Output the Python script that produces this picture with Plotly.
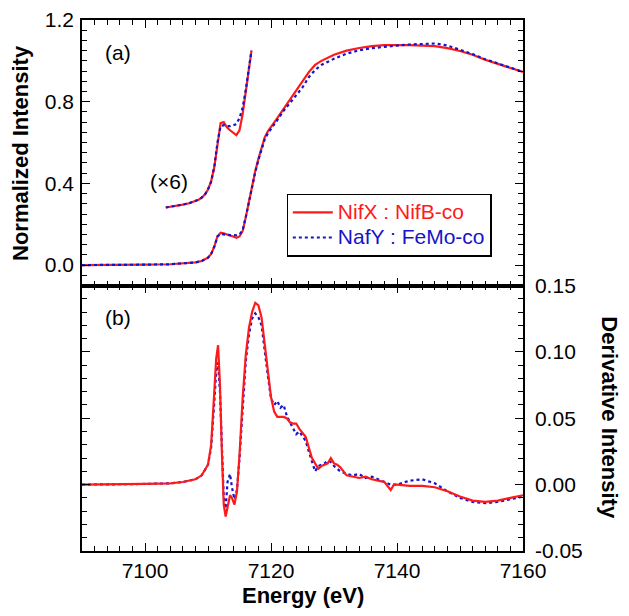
import plotly.graph_objects as go

# ---------------- data ----------------
energy_xanes = [7090, 7095, 7100, 7104, 7106, 7107, 7108, 7109, 7109.5, 7110, 7110.5, 7111,
                7111.5, 7112, 7112.5, 7113, 7113.5, 7114, 7114.5, 7115, 7115.5, 7116, 7116.5,
                7117, 7117.5, 7118, 7118.5, 7119, 7119.5, 7120, 7121, 7122, 7123, 7124, 7125,
                7126, 7127, 7128, 7130, 7132, 7134, 7136, 7138, 7140, 7142, 7144, 7146, 7148,
                7150, 7152, 7154, 7156, 7158, 7160]
xanes_nifx = [0.0, 0.0, 0.002, 0.004, 0.007, 0.009, 0.013, 0.02, 0.027, 0.036, 0.055, 0.09,
              0.14, 0.158, 0.155, 0.148, 0.145, 0.14, 0.134, 0.14, 0.167, 0.235, 0.31,
              0.39, 0.46, 0.52, 0.575, 0.625, 0.655, 0.675, 0.72, 0.765, 0.81, 0.85, 0.895,
              0.945, 0.98, 1.0, 1.03, 1.05, 1.063, 1.072, 1.077, 1.078, 1.077, 1.075, 1.072, 1.062,
              1.048, 1.03, 1.005, 0.985, 0.965, 0.946]
xanes_nafy = [0.0, 0.0, 0.002, 0.004, 0.007, 0.009, 0.013, 0.02, 0.027, 0.036, 0.055, 0.09,
              0.14, 0.152, 0.15, 0.147, 0.147, 0.147, 0.146, 0.15, 0.17, 0.235, 0.31,
              0.39, 0.455, 0.515, 0.565, 0.615, 0.645, 0.665, 0.71, 0.755, 0.795, 0.835, 0.87,
              0.92, 0.955, 0.98, 1.01, 1.035, 1.052, 1.062, 1.07, 1.075, 1.08, 1.084, 1.085, 1.075,
              1.055, 1.033, 1.008, 0.987, 0.966, 0.946]

energy_x6 = [7103.3, 7104, 7105, 7106, 7107, 7108, 7108.5, 7109, 7109.5, 7110, 7110.5, 7111,
             7111.5, 7112, 7112.5, 7113, 7113.5, 7114, 7114.5, 7115, 7115.5, 7116, 7116.5, 7116.9]
x6_nifx = [0.282, 0.285, 0.29, 0.296, 0.303, 0.313, 0.32, 0.33, 0.345, 0.37, 0.41, 0.48,
           0.6, 0.695, 0.70, 0.675, 0.66, 0.648, 0.636, 0.66, 0.74, 0.85, 0.96, 1.05]
x6_nafy = [0.282, 0.285, 0.29, 0.296, 0.303, 0.313, 0.32, 0.33, 0.345, 0.37, 0.41, 0.48,
           0.6, 0.68, 0.685, 0.68, 0.68, 0.685, 0.69, 0.72, 0.77, 0.86, 0.96, 1.05]

energy_deriv = [7090, 7095, 7100, 7104, 7106, 7108, 7109, 7110, 7110.5, 7111, 7111.3, 7111.6,
                7111.9, 7112.2, 7112.5, 7112.8, 7113.1, 7113.5, 7113.8, 7114.2, 7114.6, 7115,
                7115.5, 7116, 7116.5, 7117, 7117.5, 7118, 7118.5, 7119, 7119.5, 7120, 7120.5,
                7121, 7121.5, 7122, 7122.5, 7123, 7123.5, 7124, 7124.5, 7125, 7125.5, 7126,
                7126.5, 7127, 7127.5, 7128, 7128.5, 7129, 7129.5, 7130, 7130.5, 7131, 7132,
                7133, 7134, 7135, 7136, 7137, 7138, 7138.5, 7139, 7139.5, 7140, 7142, 7144,
                7146, 7148, 7150, 7152, 7154, 7156, 7158, 7160]
deriv_nifx = [0.0, 0.0, 0.0005, 0.001, 0.002, 0.004, 0.007, 0.015, 0.03, 0.07, 0.095, 0.105,
              0.075, 0.025, -0.015, -0.024, -0.018, -0.008, -0.01, -0.015, -0.005, 0.022,
              0.065, 0.098, 0.118, 0.13, 0.137, 0.135, 0.126, 0.105, 0.085, 0.066, 0.055,
              0.051, 0.051, 0.051, 0.05, 0.047, 0.046, 0.046, 0.042, 0.039, 0.036, 0.028,
              0.02, 0.016, 0.012, 0.014, 0.015, 0.016, 0.02, 0.016, 0.015, 0.013, 0.007,
              0.006, 0.005, 0.006, 0.004, 0.003, 0.002, -0.001, -0.004, 0.0, 0.0, -0.001, -0.001,
              -0.002, -0.005, -0.009, -0.012, -0.013, -0.012, -0.01, -0.008]
deriv_nafy = [0.0, 0.0, 0.0005, 0.001, 0.002, 0.004, 0.007, 0.015, 0.028, 0.062, 0.085, 0.092,
              0.07, 0.03, -0.01, -0.018, 0.002, 0.008, -0.002, -0.011, -0.004, 0.02,
              0.06, 0.093, 0.113, 0.125, 0.129, 0.126, 0.12, 0.1, 0.082, 0.065, 0.06,
              0.063, 0.058, 0.06, 0.052, 0.047, 0.042, 0.038, 0.04, 0.036, 0.033, 0.025,
              0.018, 0.01, 0.014, 0.015, 0.016, 0.018, 0.017, 0.014, 0.012, 0.01, 0.008,
              0.007, 0.008, 0.005, 0.006, 0.004, 0.002, 0.001, 0.0, 0.0, 0.0, 0.003, 0.004,
              0.001, -0.005, -0.01, -0.013, -0.014, -0.013, -0.011, -0.009]

name_nifx = "NifX : NifB-co"
name_nafy = "NafY : FeMo-co"
y2_tickvals = [-0.05, 0.0, 0.05, 0.10, 0.15]
y2_ticktext = ["-0.05", "0.00", "0.05", "0.10", "0.15"]

RED = "#ff1a1a"
BLUE = "#1414c8"
FONT = "Liberation Sans, Arial, sans-serif"

fig = go.Figure()

# top panel
fig.add_trace(go.Scatter(x=energy_xanes, y=xanes_nifx, xaxis="x2", yaxis="y", mode="lines",
                         line=dict(color=RED, width=2.2),
                         name=f"<span style='color:{RED};font-size:21px'>{name_nifx}</span>"))
fig.add_trace(go.Scatter(x=energy_xanes, y=xanes_nafy, xaxis="x2", yaxis="y", mode="lines",
                         line=dict(color=BLUE, width=2.2, dash="dot"),
                         name=f"<span style='color:{BLUE};font-size:21px'>{name_nafy}</span>"))
fig.add_trace(go.Scatter(x=energy_x6, y=x6_nifx, xaxis="x2", yaxis="y", mode="lines",
                         line=dict(color=RED, width=2.2), showlegend=False))
fig.add_trace(go.Scatter(x=energy_x6, y=x6_nafy, xaxis="x2", yaxis="y", mode="lines",
                         line=dict(color=BLUE, width=2.2, dash="dot"), showlegend=False))
# bottom panel
fig.add_trace(go.Scatter(x=energy_deriv, y=deriv_nafy, xaxis="x", yaxis="y2", mode="lines",
                         line=dict(color=BLUE, width=2.2, dash="dot"), showlegend=False))
fig.add_trace(go.Scatter(x=energy_deriv, y=deriv_nifx, xaxis="x", yaxis="y2", mode="lines",
                         line=dict(color=RED, width=2.2), showlegend=False))

axis_common = dict(showline=True, linecolor="black", linewidth=1.5, ticks="inside",
                   ticklen=8, tickwidth=1.2, tickcolor="black", mirror="allticks",
                   showgrid=False, zeroline=False, automargin=False,
                   tickfont=dict(family=FONT, size=21, color="black"))

# page body has an 8px default margin, so the figure is 8px smaller than the window
fig.update_layout(
    width=621, height=608,
    margin=dict(l=74, r=106, t=12, b=65, autoexpand=False),
    plot_bgcolor="white", paper_bgcolor="white",
    font=dict(family=FONT, size=21, color="black"),
    xaxis=dict(domain=[0, 1], anchor="y2", range=[7090, 7160], tick0=7100, dtick=20,
               minor=dict(dtick=2, ticklen=5, ticks="inside", tickcolor="black", tickwidth=1.2),
               **axis_common),
    xaxis2=dict(domain=[0, 1], anchor="y", matches="x", range=[7090, 7160], tick0=7100, dtick=20,
                showticklabels=False,
                minor=dict(dtick=2, ticklen=5, ticks="inside", tickcolor="black", tickwidth=1.2),
                **axis_common),
    yaxis=dict(domain=[0.5, 1], anchor="x2", range=[-0.1, 1.2], tick0=0, dtick=0.4,
               tickformat=".1f", ticklabelstandoff=2,
               minor=dict(dtick=0.05, ticklen=5, ticks="inside", tickcolor="black", tickwidth=1.2),
               **axis_common),
    yaxis2=dict(domain=[0, 0.5], anchor="x", range=[-0.05, 0.15], side="right",
                tickmode="array", tickvals=y2_tickvals, ticktext=y2_ticktext,
                ticklabelstandoff=6,
                minor=dict(dtick=0.01, tick0=0, ticklen=5, ticks="inside", tickcolor="black",
                           tickwidth=1.2),
                **axis_common),
    legend=dict(x=0.464, y=0.673, xanchor="left", yanchor="top",
                bordercolor="black", borderwidth=1.2, bgcolor="white",
                font=dict(family=FONT, size=17), tracegroupgap=0,
                itemwidth=40),
    showlegend=True,
)

annots = [
    dict(text="(a)", x=0.05, y=0.939, xanchor="left", yanchor="middle", font_size=21),
    dict(text="(b)", x=0.05, y=0.439, xanchor="left", yanchor="middle", font_size=21),
    dict(text="(×6)", x=0.153, y=0.695, xanchor="left", yanchor="middle", font_size=21),
    dict(text="<b>Energy (eV)</b>", x=0.5, y=-0.083, xanchor="center", yanchor="middle",
         font_size=22),
    dict(text="<b>Normalized Intensity</b>", x=-0.140, y=0.75, xanchor="center",
         yanchor="middle", textangle=-90, font_size=22),
    dict(text="<b>Derivative Intensity</b>", x=1.197, y=0.25, xanchor="center",
         yanchor="middle", textangle=90, font_size=22),
]
for a in annots:
    fig.add_annotation(xref="paper", yref="paper", showarrow=False, borderpad=0,
                       font=dict(family=FONT, size=a.pop("font_size"), color="black"), **a)

fig.write_html("out.html")
